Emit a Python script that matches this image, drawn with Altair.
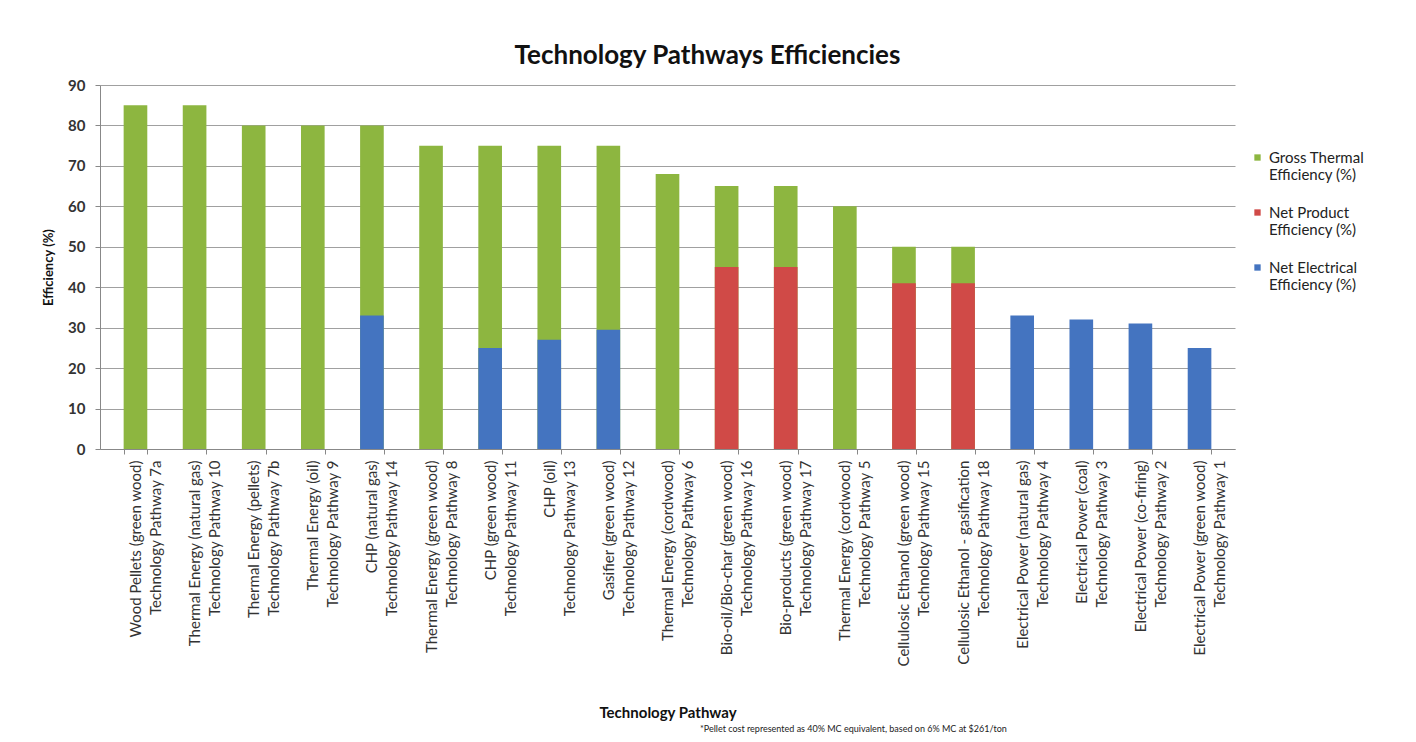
import altair as alt
import pandas as pd

categories = [
    "Wood Pellets (green wood)|Technology Pathway 7a",
    "Thermal Energy (natural gas)|Technology Pathway 10",
    "Thermal Energy (pellets)|Technology Pathway 7b",
    "Thermal Energy (oil)|Technology Pathway 9",
    "CHP (natural gas)|Technology Pathway 14",
    "Thermal Energy (green wood)|Technology Pathway 8",
    "CHP (green wood)|Technology Pathway 11",
    "CHP (oil)|Technology Pathway 13",
    "Gasifier (green wood)|Technology Pathway 12",
    "Thermal Energy (cordwood)|Technology Pathway 6",
    "Bio-oil/Bio-char (green wood)|Technology Pathway 16",
    "Bio-products (green wood)|Technology Pathway 17",
    "Thermal Energy (cordwood)|Technology Pathway 5",
    "Cellulosic Ethanol (green wood)|Technology Pathway 15",
    "Cellulosic Ethanol - gasification|Technology Pathway 18",
    "Electrical Power (natural gas)|Technology Pathway 4",
    "Electrical Power (coal)|Technology Pathway 3",
    "Electrical Power (co-firing)|Technology Pathway 2",
    "Electrical Power (green wood)|Technology Pathway 1",
]
gross_thermal = [85, 85, 80, 80, 80, 75, 75, 75, 75, 68, 65, 65, 60, 50, 50, None, None, None, None]
net_product = [None, None, None, None, None, None, None, None, None, None, 45, 45, None, 41, 41, None, None, None, None]
net_electrical = [None, None, None, None, 33, None, 25, 27, 29.5, None, None, None, None, None, None, 33, 32, 31, 25]

series_names = ["Gross Thermal|Efficiency (%)", "Net Product|Efficiency (%)", "Net Electrical|Efficiency (%)"]
series_colors = ["#8DB640", "#D04A47", "#4474C0"]
footnote = "*Pellet cost represented as 40% MC equivalent, based on 6% MC at $261/ton"

rows = []
for i, c in enumerate(categories):
    for name, vals in zip(series_names, [gross_thermal, net_product, net_electrical]):
        if vals[i] is not None:
            rows.append({"Pathway": c, "Series": name, "Value": vals[i]})
df = pd.DataFrame(rows)

FONT = "Lato"

x_enc = alt.X(
    "Pathway:N",
    sort=categories,
    title="Technology Pathway",
    scale=alt.Scale(paddingInner=0.6, paddingOuter=0.4),
    axis=alt.Axis(
        labelExpr="split(datum.label, '|')",
        labelAngle=-90,
        labelFontSize=15,
        labelLineHeight=20,
        labelColor="#333333",
        labelPadding=6,
        labelLimit=400,
        tickBand="extent",
        tickSize=5,
        tickColor="#888888",
        domainColor="#888888",
        titleFontSize=15,
        titleFontWeight="bold",
        titleColor="#111111",
        titleY=263,
        titleBaseline="middle",
    ),
)
y_enc = alt.Y(
    "Value:Q",
    stack=None,
    title="Efficiency (%)",
    scale=alt.Scale(domain=[0, 90]),
    axis=alt.Axis(
        values=list(range(0, 91, 10)),
        labelFontSize=15,
        labelFontWeight="bold",
        labelColor="#333333",
        labelPadding=10,
        tickSize=5,
        tickColor="#888888",
        domainColor="#888888",
        gridColor="#A0A0A0",
        titleFontSize=13,
        titleFontWeight="bold",
        titleColor="#111111",
        titlePadding=12,
    ),
)
color_enc = alt.Color(
    "Series:N",
    scale=alt.Scale(domain=series_names, range=series_colors),
    legend=alt.Legend(
        title=None,
        orient="none",
        legendX=1150,
        legendY=65,
        labelExpr="split(datum.label, '|')",
        labelFontSize=15,
        labelColor="#222222",
        symbolType="square",
        symbolSize=40,
        symbolStrokeWidth=0,
        rowPadding=22,
        labelLimit=300,
    ),
)

base = alt.Chart(df)
gross = base.transform_filter(alt.datum.Series == series_names[0]).mark_bar().encode(
    x=x_enc, y=y_enc, color=color_enc
)
net = base.transform_filter(alt.datum.Series != series_names[0]).mark_bar().encode(
    x=x_enc, y=y_enc, color=color_enc
)
note = alt.Chart(pd.DataFrame({"t": [footnote]})).mark_text(
    fontSize=9, font=FONT, align="left", baseline="middle", color="#222222"
).encode(text="t:N", x=alt.value(600), y=alt.value(644))

chart = alt.layer(gross, net, note).properties(
    width=1135,
    height=364,
    title=alt.TitleParams(
        "Technology Pathways Efficiencies",
        fontSize=26,
        fontWeight="bold",
        font=FONT,
        color="#111111",
        dx=40,
        offset=9,
    ),
    autosize=alt.AutoSizeParams(type="none"),
    padding={"left": 92, "top": 77, "right": 173, "bottom": 285},
).configure(font=FONT).configure_view(stroke=None).configure_axis(labelFont=FONT, titleFont=FONT).configure_axisX(grid=False).configure_legend(labelFont=FONT)

chart.save("out.html", embed_options={"renderer": "svg", "actions": False})
